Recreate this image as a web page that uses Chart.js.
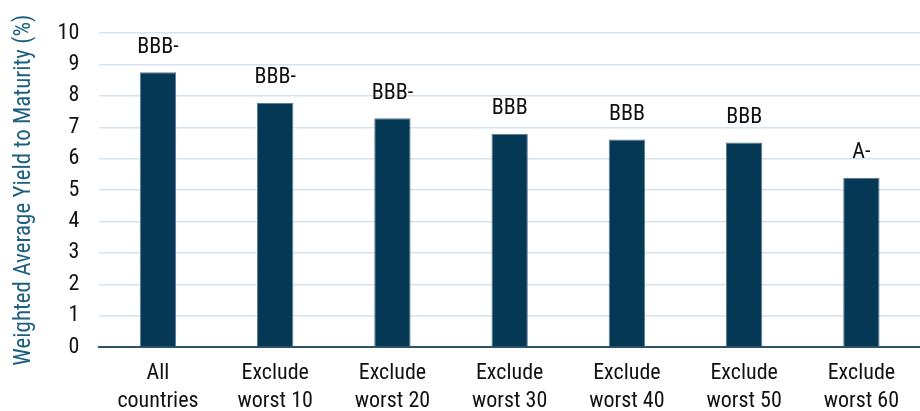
<!DOCTYPE html>
<html lang="en">
<head>
    <meta charset="UTF-8">
    <title>Weighted Average Yield to Maturity</title>
    <script src="https://cdn.jsdelivr.net/npm/chart.js"></script>
    <style>
        html, body { margin: 0; padding: 0; background: #fff; }
        #wrap { width: 920px; height: 411px; }
    </style>
</head>
<body>
    <div id="wrap"><canvas id="ytmChart"></canvas></div>

    <script>
        const categories = [
            ['All', 'countries'],
            ['Exclude', 'worst 10'],
            ['Exclude', 'worst 20'],
            ['Exclude', 'worst 30'],
            ['Exclude', 'worst 40'],
            ['Exclude', 'worst 50'],
            ['Exclude', 'worst 60']
        ];
        const yieldValues = [8.76, 7.78, 7.29, 6.8, 6.61, 6.52, 5.39];
        const ratings = ['BBB-', 'BBB-', 'BBB-', 'BBB', 'BBB', 'BBB', 'A-'];

        const fontFamily = '"Roboto Condensed", "Liberation Sans Narrow", "DejaVu Sans Condensed", Roboto, sans-serif';

        // rating text above each bar
        const ratingLabels = {
            id: 'ratingLabels',
            afterDatasetsDraw(chart) {
                const ctx = chart.ctx;
                const meta = chart.getDatasetMeta(0);
                ctx.save();
                ctx.font = '22px ' + fontFamily;
                ctx.fillStyle = '#111';
                ctx.textAlign = 'center';
                ctx.textBaseline = 'middle';
                meta.data.forEach((bar, i) => {
                    ctx.fillText(ratings[i], bar.x, bar.y - 25);
                });
                ctx.restore();
            }
        };

        new Chart(document.getElementById('ytmChart'), {
            type: 'bar',
            data: {
                labels: categories,
                datasets: [{
                    data: yieldValues,
                    backgroundColor: '#053854',
                    borderColor: '#5a7d92',
                    borderWidth: { top: 1, left: 1, right: 1, bottom: 0 },
                    barPercentage: 0.62,
                    categoryPercentage: 0.5
                }]
            },
            options: {
                responsive: true,
                maintainAspectRatio: false,
                animation: false,
                layout: { padding: { top: 33, right: 0, left: 6, bottom: -16 } },
                plugins: {
                    legend: { display: false },
                    tooltip: { enabled: false }
                },
                scales: {
                    x: {
                        grid: { display: false, drawTicks: false },
                        border: { color: '#2e5266', width: 2 },
                        ticks: {
                            color: '#111',
                            font: { family: fontFamily, size: 22, lineHeight: 1.27 },
                            maxRotation: 0,
                            padding: 12
                        }
                    },
                    y: {
                        min: 0,
                        max: 10,
                        ticks: {
                            stepSize: 1,
                            color: '#111',
                            font: { family: fontFamily, size: 22 },
                            padding: 20
                        },
                        grid: { color: '#d5e3ee', lineWidth: 1.5, drawTicks: false },
                        border: { display: false },
                        title: {
                            display: true,
                            text: 'Weighted Average Yield to Maturity (%)',
                            color: '#1d5f80',
                            font: { family: fontFamily, size: 23 },
                            padding: { top: 4, bottom: 0 }
                        }
                    }
                }
            },
            plugins: [ratingLabels]
        });
    </script>
</body>
</html>
